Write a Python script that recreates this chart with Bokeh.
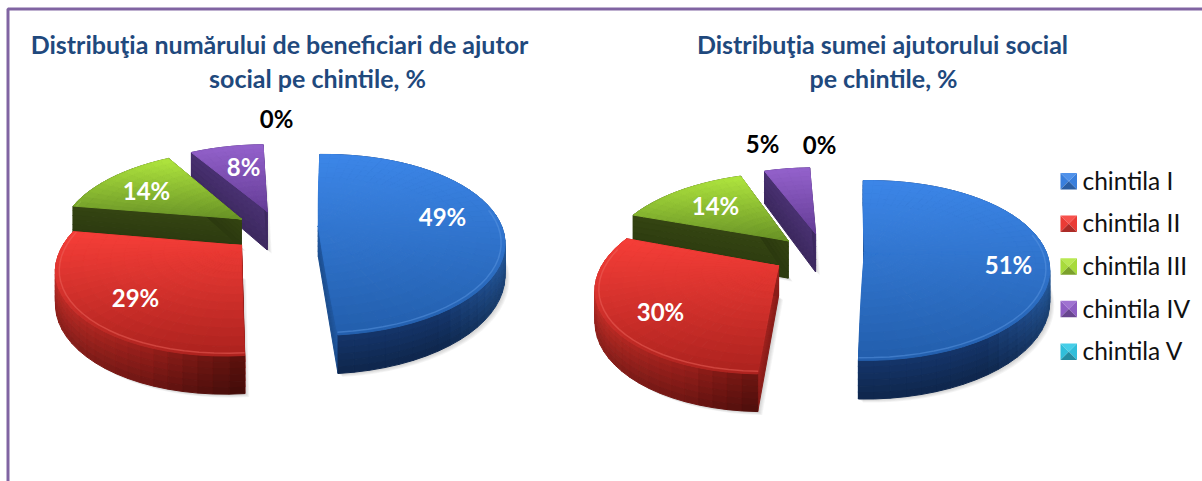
import math
from bokeh.plotting import figure
from bokeh.models import Range1d, ColumnDataSource
from bokeh.core.properties import value
from bokeh.embed import file_html
from bokeh.resources import INLINE

# ---- data ----
categories = ["chintila I", "chintila II", "chintila III", "chintila IV", "chintila V"]
beneficiari = [49, 29, 14, 8, 0]
suma = [51, 30, 14, 5, 0]
title_left = ["Distribuţia numărului de beneficiari de ajutor", "social pe chintile, %"]
title_right = ["Distribuţia sumei ajutorului social", "pe chintile, %"]

# ---- styles ----
TOP = [((60, 134, 232), (34, 94, 172)), ((246, 62, 56), (172, 34, 30)),
       ((176, 230, 62), (104, 146, 38)), ((148, 98, 204), (100, 60, 150)),
       ((50, 200, 230), (30, 150, 180))]
WALL = [((44, 100, 170), (20, 52, 104), (24, 64, 122)), ((196, 46, 40), (150, 30, 26), (86, 16, 12)),
        ((60, 78, 20), (50, 66, 18), (52, 68, 18)), ((80, 52, 122), (66, 44, 104), (48, 34, 82)),
        ((30, 130, 160), (20, 100, 130), (20, 90, 120))]
CUT = [(34, 92, 168), (160, 34, 30), (52, 68, 18), (72, 48, 112), (20, 100, 130)]
RIM = [(90, 150, 225), (238, 100, 92), (150, 190, 70), (130, 90, 180), (80, 200, 230)]


def mix(a, b, t):
    t = max(0.0, min(1.0, t))
    return tuple(int(round(a[i] + (b[i] - a[i]) * t)) for i in range(3))


def hexc(c):
    return "#%02x%02x%02x" % c


layout_left = dict(cx=265, cy=230, start=-1.5, slices=[
    dict(du=.30, dv=.05, S=14, rs=1.04, dz=1), dict(du=-.13, dv=-.17, S=11, rs=.97, dz=.95),
    dict(du=-.14, dv=.14, S=0, rs=1.02, dz=.95), dict(du=.01, dv=.235, S=0, rs=1.03, dz=1.3),
    dict(du=0, dv=.2, S=0, rs=1, dz=1)])
layout_right = dict(cx=810, cy=255, start=-2, slices=[
    dict(du=.305, dv=.04, S=13, rs=1.03, dz=1), dict(du=-.175, dv=-.12, S=7, rs=.97, dz=.95),
    dict(du=-.13, dv=.18, S=0, rs=1.03, dz=1.25), dict(du=.03, dv=.27, S=0, rs=1.03, dz=1.3),
    dict(du=0, dv=.2, S=0, rs=1, dz=1)])
R, H, K, D = 178.0, 85.0, 0.2, 31.0

xs, ys, cs = [], [], []
sx_s, sy_s = [], []
rim_x, rim_y, rim_c = [], [], []


def add(pts, col):
    xs.append([p[0] for p in pts])
    ys.append([p[1] for p in pts])
    cs.append(hexc(col))


def make_projection(cx, cy, s):
    def P(r, deg, z=0.0):
        t = math.radians(deg)
        lu, lv = r * s["rs"] * math.sin(t), r * s["rs"] * math.cos(t)
        u, v = lu + s["du"], lv + s["dv"]
        d = 1 + K * v
        return (cx + R * u / d + s["S"] * lv, cy - H * v / d + D * s["dz"] * z / d)
    return P


def pie(vals, L):
    total = float(sum(vals))
    a = L["start"]
    cx, cy = L["cx"], L["cy"]
    layers = []
    for i, val in enumerate(vals):
        sweep = 360.0 * val / total
        if sweep <= 0:
            continue
        P = make_projection(cx, cy, L["slices"][i])
        na = max(3, int(round(sweep / 4)))
        angs = [a + sweep * j / na for j in range(na + 1)]
        # soft shadow below the slice
        base = [P(0, a, 1)] + [P(1, q, 1) for q in angs]
        for off in (1, 2, 3, 4, 5):
            sx_s.append([p[0] + off * .9 for p in base])
            sy_s.append([p[1] + off * .7 for p in base])
        layers.append((i, P, angs, a, sweep, na))
        a += sweep
    order = sorted(layers, key=lambda l: {0: 2, 1: 3, 2: 1, 3: 0, 4: 0}[l[0]])
    for i, P, angs, a0, sweep, na in order:
        ytop = min(P(r, q)[1] for r in (0, 1) for q in angs)
        ybot = max(P(r, q)[1] for r in (0, 1) for q in angs)
        strips = sorted(range(na), key=lambda j: -math.cos(math.radians((angs[j] + angs[j + 1]) / 2)))

        def wall(j):
            mid = (angs[j] + angs[j + 1]) / 2
            sn = math.sin(math.radians(mid))
            c0, c1, c2 = WALL[i]
            base = mix(c1, c0, -sn) if i != 0 else mix(c1, (38, 92, 160), (sn - .55) / .45)
            if i == 1:
                base = mix(c1, c0, (-sn - .35) / .65) if sn < -.35 else mix(c1, c2, (sn + .35) / .45)
            nz = 6
            for z in range(nz):
                col = mix(base, (base[0] * 3 // 4, base[1] * 3 // 4, base[2] * 3 // 4), z / (nz - 1))
                add([P(1, angs[j], z / nz), P(1, angs[j + 1], z / nz),
                     P(1, angs[j + 1], (z + 1) / nz), P(1, angs[j], (z + 1) / nz)], col)
        for j in strips:
            if math.cos(math.radians((angs[j] + angs[j + 1]) / 2)) > 0:
                wall(j)
        for edge in (angs[0], angs[-1]):
            nz = 6
            dark = tuple(int(c * .86) for c in CUT[i])
            for z in range(nz):
                add([P(0, edge, z / nz), P(1, edge, z / nz), P(1, edge, (z + 1) / nz), P(0, edge, (z + 1) / nz)],
                    mix(CUT[i], dark, z / (nz - 1)))
        for j in strips:
            if math.cos(math.radians((angs[j] + angs[j + 1]) / 2)) <= 0:
                wall(j)
        nr = 14
        for j in range(na):
            for k in range(nr):
                r0, r1 = k / nr, (k + 1) / nr
                q = [P(r0, angs[j]), P(r1, angs[j]), P(r1, angs[j + 1]), P(r0, angs[j + 1])]
                yc = sum(pt[1] for pt in q) / 4
                add(q, mix(TOP[i][0], TOP[i][1], (yc - ytop) / (ybot - ytop)))
        front = [q for q in angs if math.cos(math.radians(q)) < .25]
        if len(front) > 1:
            rim_x.append([P(.98, q)[0] for q in front])
            rim_y.append([P(.98, q)[1] for q in front])
            rim_c.append(hexc(RIM[i]))


pie(beneficiari, layout_left)
pie(suma, layout_right)

p = figure(width=1202, height=481, output_backend="svg", toolbar_location=None,
           x_range=Range1d(0, 1202), y_range=Range1d(481, 0), min_border=0,
           styles={"position": "absolute", "left": "0px", "top": "0px"})
p.axis.visible = False
p.grid.visible = False
p.outline_line_color = None
p.background_fill_color = "white"
p.border_fill_color = "white"

p.line([7.5, 7.5, 1202], [481, 8.5, 8.5], line_color="#8064A2", line_width=3)

p.patches(sx_s, sy_s, fill_color="#404040", fill_alpha=0.055, line_color=None)
p.patches("xs", "ys", source=ColumnDataSource(dict(xs=xs, ys=ys, c=cs)),
          fill_color="c", line_color="c", line_width=1)
p.multi_line("xs", "ys", source=ColumnDataSource(dict(xs=rim_x, ys=rim_y, c=rim_c)),
             line_color="c", line_width=1.5, line_alpha=0.5)

FONT = value("Lato")


def txt(x, y, s, color, size, bold=True, align="center"):
    p.text([x], [y], text=[s], text_color=color, text_font=FONT, text_font_size=f"{size}px",
           text_font_style="bold" if bold else "normal", text_align=align, text_baseline="middle")


NAVY = "#1F497D"
txt(279, 43, title_left[0], NAVY, 25)
txt(317, 77, title_left[1], NAVY, 25)
txt(882, 43, title_right[0], NAVY, 25)
txt(883, 77, title_right[1], NAVY, 25)

for x, y, v, c in [(442, 216, beneficiari[0], "white"), (135, 297, beneficiari[1], "white"),
                   (146, 190, beneficiari[2], "white"), (243, 166, beneficiari[3], "white"),
                   (276, 118, beneficiari[4], "black"),
                   (1008, 264, suma[0], "white"), (660, 311, suma[1], "white"),
                   (715, 205, suma[2], "white"), (762, 143, suma[3], "black"),
                   (819, 144, suma[4], "black")]:
    txt(x, y, f"{v}%", c, 24)

lx, ly, ls, lh = 1060, 172.5, 16.5, 42.6
lg_x, lg_y, lg_c = [], [], []
for i, name in enumerate(categories):
    y0 = ly + i * lh
    base = TOP[i][0]
    dark = mix(base, (0, 0, 0), .3)
    x0 = lx
    x1, y1 = lx + ls, y0 + ls
    mx, my = lx + ls / 2, y0 + ls / 2
    for tri, col in [([(x0, y0), (x1, y0), (mx, my)], mix(base, (255, 255, 255), .1)),
                     ([(x0, y0), (x0, y1), (mx, my)], mix(base, (0, 0, 0), .05)),
                     ([(x1, y0), (x1, y1), (mx, my)], mix(base, (0, 0, 0), .05)),
                     ([(x0, y1), (x1, y1), (mx, my)], dark)]:
        lg_x.append([q[0] for q in tri])
        lg_y.append([q[1] for q in tri])
        lg_c.append(hexc(col))
    txt(1082, y0 + ls / 2 - 1, name, "#111111", 24.5, bold=False, align="left")
p.patches("x", "y", source=ColumnDataSource(dict(x=lg_x, y=lg_y, c=lg_c)), fill_color="c", line_color=None)

open("out.html", "w").write(file_html(p, INLINE))
